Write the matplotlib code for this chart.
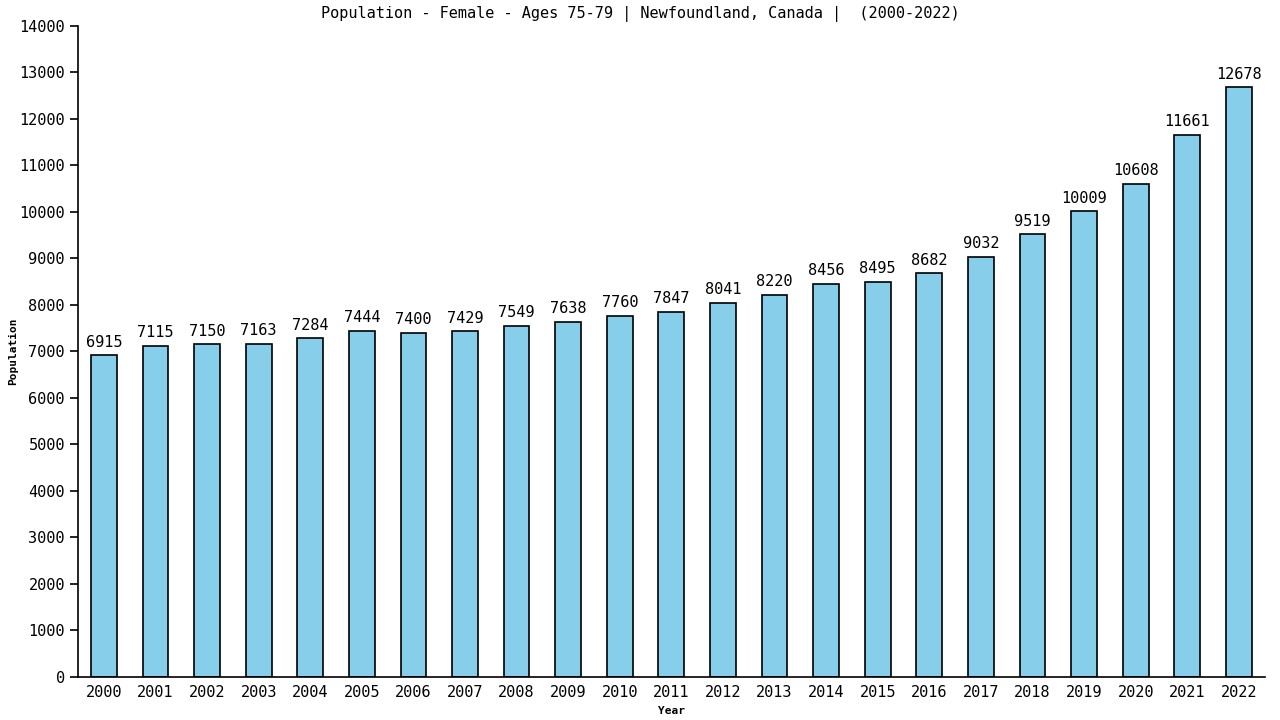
import matplotlib
matplotlib.use('Agg')
import matplotlib.pyplot as plt

years = [str(y) for y in range(2000, 2023)]
population = [6915, 7115, 7150, 7163, 7284, 7444, 7400, 7429, 7549, 7638, 7760,
              7847, 8041, 8220, 8456, 8495, 8682, 9032, 9519, 10009, 10608, 11661, 12678]

plt.rcParams['font.family'] = ['DejaVu Sans Mono']

fig = plt.figure(figsize=(12.8, 7.2), dpi=100)
ax = fig.add_axes([0.061, 0.06, 0.927, 0.904])

x = list(range(len(years)))
bars = ax.bar(x, population, width=0.5, color='#87CEEB', edgecolor='black', linewidth=1.2)

for xi, v in zip(x, population):
    ax.text(xi, v + 120, str(v), ha='center', va='bottom', fontsize=11)

ax.set_xlim(-0.5, len(years) - 0.5)
ax.set_ylim(0, 14000)
ax.set_yticks(range(0, 14001, 1000))
ax.set_xticks(x)
ax.set_xticklabels(years)
ax.tick_params(axis='both', labelsize=11, length=6, width=1.2)
ax.tick_params(axis='x', length=0, pad=6)

for side in ['top', 'right']:
    ax.spines[side].set_visible(False)
for side in ['left', 'bottom']:
    ax.spines[side].set_linewidth(1.2)

ax.set_xlabel('Year', fontsize=8, fontweight='bold', labelpad=4)
ax.set_ylabel('Population', fontsize=8, fontweight='bold', labelpad=1)
fig.suptitle('Population - Female - Ages 75-79 | Newfoundland, Canada |  (2000-2022)',
             fontsize=11, y=0.992)

fig.savefig('out.png', dpi=100)
